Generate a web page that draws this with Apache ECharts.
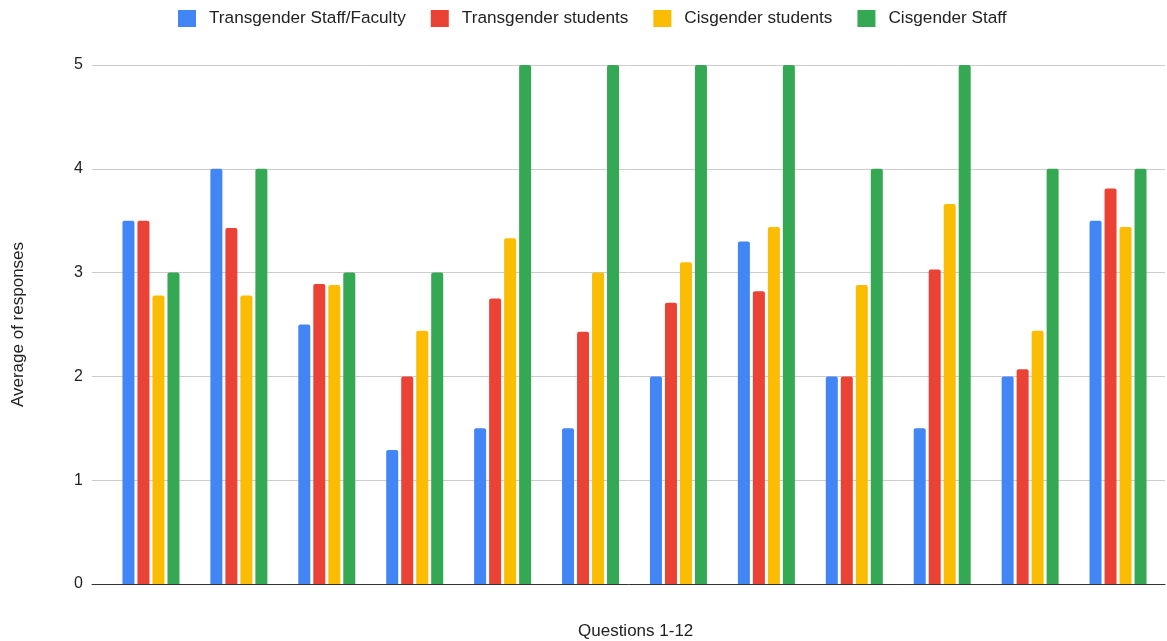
<!DOCTYPE html>
<html>
<head>
<meta charset="utf-8">
<script src="https://cdn.jsdelivr.net/npm/echarts@6/dist/echarts.min.js"></script>
<style>
  html, body { margin: 0; padding: 0; background: #fff; }
  #chart { width: 1167px; height: 641px; }
</style>
</head>
<body>
<div id="chart"></div>
<script>
// Questions 1-12, average response per group
const questions = ['Q1', 'Q2', 'Q3', 'Q4', 'Q5', 'Q6', 'Q7', 'Q8', 'Q9', 'Q10', 'Q11', 'Q12'];
const seriesNames = ['Transgender Staff/Faculty', 'Transgender students', 'Cisgender students', 'Cisgender Staff'];
const transStaff = [3.5, 4, 2.5, 1.29, 1.5, 1.5, 2, 3.3, 2, 1.5, 2, 3.5];
const transStudents = [3.5, 3.43, 2.89, 2, 2.75, 2.43, 2.71, 2.82, 2, 3.03, 2.07, 3.81];
const cisStudents = [2.78, 2.78, 2.88, 2.44, 3.33, 3, 3.1, 3.44, 2.88, 3.66, 2.44, 3.44];
const cisStaff = [3, 4, 3, 3, 5, 5, 5, 5, 4, 5, 4, 4];
const yTicks = [0, 1, 2, 3, 4, 5];

const colors = ['#4285F4', '#EA4335', '#FBBC04', '#34A853'];
const font = 'Arial, "Liberation Sans", sans-serif';

const chart = echarts.init(document.getElementById('chart'));

function barSeries(name, data, color) {
  return {
    name: name,
    type: 'bar',
    xAxisIndex: 1,
    yAxisIndex: 1,
    data: data,
    barWidth: 12,
    barGap: '25%',
    itemStyle: { color: color, borderRadius: [2, 2, 0, 0] },
    emphasis: { disabled: true }
  };
}

chart.setOption({
  animation: false,
  textStyle: { fontFamily: font },
  title: {
    text: 'Questions 1-12',
    left: 578,
    top: 623,
    padding: 0,
    textStyle: { fontSize: 17, fontWeight: 'normal', color: '#222', fontFamily: font }
  },
  legend: {
    left: 178,
    top: 10,
    padding: 0,
    itemWidth: 18,
    itemHeight: 17,
    itemGap: 25,
    icon: 'rect',
    data: seriesNames,
    textStyle: { fontSize: 17.2, color: '#222', fontFamily: font, padding: [0, 0, 0, 8] }
  },
  grid: [
    // frame for gridlines and the baseline
    { left: 92, right: 2, top: 65, bottom: 57 },
    // area where the bars sit
    { left: 107, right: 5, top: 65, bottom: 57 }
  ],
  xAxis: [
    {
      type: 'category',
      gridIndex: 0,
      data: questions,
      axisLine: { show: true, lineStyle: { color: '#333', width: 1 } },
      axisTick: { show: false },
      axisLabel: { show: false },
      splitLine: { show: false }
    },
    {
      type: 'category',
      gridIndex: 1,
      data: questions,
      show: false
    }
  ],
  yAxis: [
    {
      type: 'value',
      gridIndex: 0,
      min: yTicks[0],
      max: yTicks[yTicks.length - 1],
      interval: 1,
      name: 'Average of responses',
      nameLocation: 'middle',
      nameGap: 65,
      nameTextStyle: { fontSize: 17, color: '#222', fontFamily: font },
      axisLine: { show: false },
      axisTick: { show: false },
      axisLabel: { fontSize: 16, color: '#222', margin: 9, fontFamily: font },
      splitLine: { lineStyle: { color: '#cccccc', width: 1 } }
    },
    {
      type: 'value',
      gridIndex: 1,
      min: yTicks[0],
      max: yTicks[yTicks.length - 1],
      interval: 1,
      show: false,
      splitLine: { show: false }
    }
  ],
  series: [
    barSeries(seriesNames[0], transStaff, colors[0]),
    barSeries(seriesNames[1], transStudents, colors[1]),
    barSeries(seriesNames[2], cisStudents, colors[2]),
    barSeries(seriesNames[3], cisStaff, colors[3])
  ]
});
</script>
</body>
</html>
